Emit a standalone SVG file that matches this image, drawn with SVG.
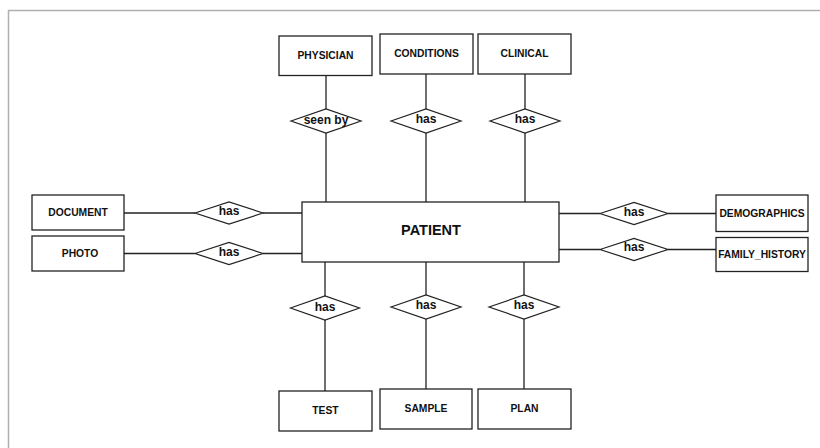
<svg xmlns="http://www.w3.org/2000/svg" width="820" height="448" viewBox="0 0 820 448">
  <style>
    .frame { fill: none; stroke: #b0b0b0; stroke-width: 1.5; }
    .entity rect { fill: #ffffff; stroke: #222222; stroke-width: 1.3; }
    .rel polygon { fill: #ffffff; stroke: #222222; stroke-width: 1.2; }
    .lbl { font-family: "Liberation Sans", Arial, sans-serif; font-weight: bold; font-size: 10.3px; fill: #111111; text-anchor: middle; dominant-baseline: central; }
    .rlbl { font-family: "Liberation Sans", Arial, sans-serif; font-weight: bold; font-size: 12px; fill: #111111; text-anchor: middle; dominant-baseline: central; }
    .big { font-size: 14.5px; }
    #connectors line { stroke: #222222; stroke-width: 1.3; }
  </style>

  <rect width="820" height="448" fill="#ffffff"/>
  <path class="frame" d="M8.5 448 V10.5 H820"/>

  <g id="connectors">
    <!-- top column -->
    <line x1="326" y1="75" x2="326" y2="109"/>
    <line x1="326" y1="133" x2="326" y2="202"/>
    <line x1="426" y1="74" x2="426" y2="109"/>
    <line x1="426" y1="133" x2="426" y2="202"/>
    <line x1="525" y1="74" x2="525" y2="109"/>
    <line x1="525" y1="133" x2="525" y2="202"/>
    <!-- left side -->
    <line x1="124" y1="213" x2="195" y2="213"/>
    <line x1="263" y1="213" x2="302" y2="213"/>
    <line x1="124" y1="253.5" x2="195" y2="253.5"/>
    <line x1="263" y1="253.5" x2="302" y2="253.5"/>
    <!-- right side -->
    <line x1="559" y1="213.5" x2="600" y2="213.5"/>
    <line x1="668" y1="213.5" x2="716" y2="213.5"/>
    <line x1="559" y1="249.5" x2="600" y2="249.5"/>
    <line x1="668" y1="249.5" x2="716" y2="249.5"/>
    <!-- bottom column -->
    <line x1="325" y1="262" x2="325" y2="296"/>
    <line x1="325" y1="320" x2="325" y2="391"/>
    <line x1="426" y1="262" x2="426" y2="295"/>
    <line x1="426" y1="319" x2="426" y2="389"/>
    <line x1="524" y1="262" x2="524" y2="295"/>
    <line x1="524" y1="319" x2="524" y2="389"/>
  </g>

  <g id="patient" class="entity">
    <rect x="302" y="202" width="257" height="60"/>
    <text class="lbl big" x="431" y="230">PATIENT</text>
  </g>

  <g id="physician" class="entity">
    <rect x="279" y="36" width="93" height="39.5"/>
    <text class="lbl" x="325.5" y="55">PHYSICIAN</text>
  </g>
  <g id="conditions" class="entity">
    <rect x="380" y="34" width="93" height="40"/>
    <text class="lbl" x="426.5" y="53">CONDITIONS</text>
  </g>
  <g id="clinical" class="entity">
    <rect x="478" y="34" width="93" height="40"/>
    <text class="lbl" x="524.5" y="53.5">CLINICAL</text>
  </g>

  <g id="document" class="entity">
    <rect x="32" y="195" width="92" height="35"/>
    <text class="lbl" x="78" y="212">DOCUMENT</text>
  </g>
  <g id="photo" class="entity">
    <rect x="32" y="236" width="92" height="35"/>
    <text class="lbl" x="80" y="253">PHOTO</text>
  </g>

  <g id="demographics" class="entity">
    <rect x="716" y="195" width="92" height="36.5"/>
    <text class="lbl" x="762" y="213">DEMOGRAPHICS</text>
  </g>
  <g id="family_history" class="entity">
    <rect x="716" y="237.5" width="92" height="34"/>
    <text class="lbl" x="762" y="254">FAMILY_HISTORY</text>
  </g>

  <g id="test" class="entity">
    <rect x="279" y="391" width="93" height="40"/>
    <text class="lbl" x="325.5" y="410">TEST</text>
  </g>
  <g id="sample" class="entity">
    <rect x="380" y="389" width="92" height="40"/>
    <text class="lbl" x="426" y="408.5">SAMPLE</text>
  </g>
  <g id="plan" class="entity">
    <rect x="478" y="389" width="93" height="40"/>
    <text class="lbl" x="524.5" y="408.5">PLAN</text>
  </g>

  <!-- relationships -->
  <g id="rel_seen_by" class="rel">
    <polygon points="291,121 326,109 361,121 326,133"/>
    <text class="rlbl" x="326" y="120">seen by</text>
  </g>
  <g id="rel_conditions" class="rel">
    <polygon points="391,121 426,109 461,121 426,133"/>
    <text class="rlbl" x="426" y="119">has</text>
  </g>
  <g id="rel_clinical" class="rel">
    <polygon points="490,121 525,109 560,121 525,133"/>
    <text class="rlbl" x="525" y="119">has</text>
  </g>

  <g id="rel_document" class="rel">
    <polygon points="195,213 229,202 263,213 229,224"/>
    <text class="rlbl" x="229" y="211">has</text>
  </g>
  <g id="rel_photo" class="rel">
    <polygon points="195,253.5 229,242.5 263,253.5 229,264.5"/>
    <text class="rlbl" x="229" y="251.5">has</text>
  </g>

  <g id="rel_demographics" class="rel">
    <polygon points="600,213.5 634,202.5 668,213.5 634,224.5"/>
    <text class="rlbl" x="634" y="212">has</text>
  </g>
  <g id="rel_family_history" class="rel">
    <polygon points="600,249.5 634,238.5 668,249.5 634,260.5"/>
    <text class="rlbl" x="634" y="247">has</text>
  </g>

  <g id="rel_test" class="rel">
    <polygon points="290.5,308 325,296 359.5,308 325,320"/>
    <text class="rlbl" x="325" y="307">has</text>
  </g>
  <g id="rel_sample" class="rel">
    <polygon points="391,307 426,295 461,307 426,319"/>
    <text class="rlbl" x="426" y="305">has</text>
  </g>
  <g id="rel_plan" class="rel">
    <polygon points="489,307 524,295 559,307 524,319"/>
    <text class="rlbl" x="524" y="305">has</text>
  </g>
</svg>
